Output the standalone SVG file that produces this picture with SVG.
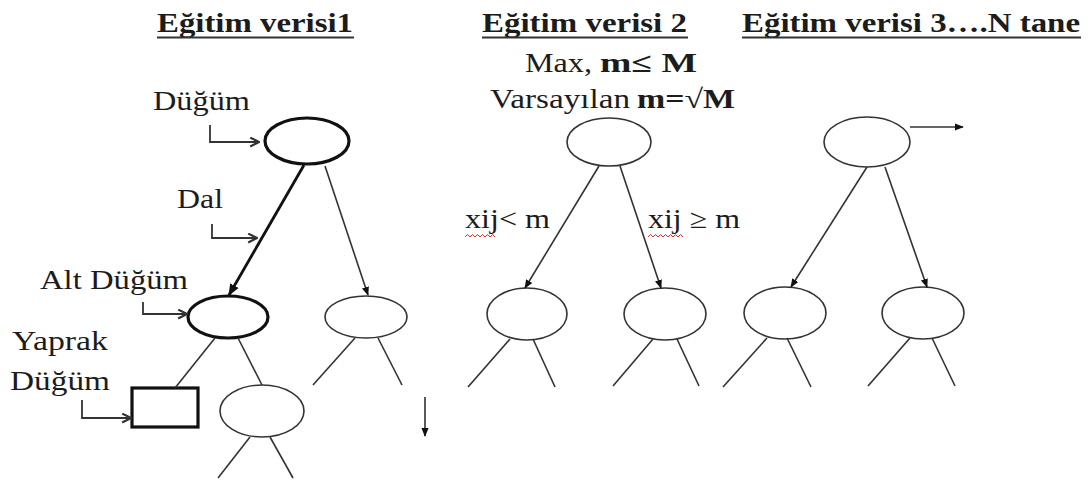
<svg xmlns="http://www.w3.org/2000/svg" width="1092" height="485" viewBox="0 0 1092 485">
<defs>
<style>
text{font-family:'Liberation Serif','Times New Roman',Times,serif;fill:#1c1c1c;font-size:27px}
.h{font-weight:bold;font-size:28px}
.b{font-weight:bold}
.n{fill:none;stroke:#333;stroke-width:1.6}
.nb{fill:none;stroke:#111;stroke-width:3.2}
.e{fill:none;stroke:#333;stroke-width:1.6}
.eb{fill:none;stroke:#111;stroke-width:2.8}
.ptr{fill:none;stroke:#333;stroke-width:1.8}
.ul{stroke:#333;stroke-width:2}
.sq{fill:none;stroke:#e03030;stroke-width:1}
</style>
<marker id="tri" viewBox="0 0 10 10" refX="9" refY="5" markerWidth="9" markerHeight="9" markerUnits="userSpaceOnUse" orient="auto">
<path d="M0,1 L10,5 L0,9 Z" fill="#111"/>
</marker>
<marker id="trib" viewBox="0 0 10 10" refX="9" refY="5" markerWidth="12" markerHeight="12" markerUnits="userSpaceOnUse" orient="auto">
<path d="M0,1 L10,5 L0,9 Z" fill="#111"/>
</marker>
<marker id="open" viewBox="0 0 10 10" refX="9" refY="5" markerWidth="11" markerHeight="11" markerUnits="userSpaceOnUse" orient="auto">
<path d="M1,1 L9,5 L1,9" fill="none" stroke="#333" stroke-width="2"/>
</marker>
</defs>
<rect width="1092" height="485" fill="#fff"/>

<g id="headings" font-family="Liberation Serif, serif">
<text class="h" x="157" y="32" textLength="196" lengthAdjust="spacingAndGlyphs">Eğitim verisi1</text>
<line class="ul" x1="157" y1="37.5" x2="354" y2="37.5"/>
<text class="h" x="482" y="32" textLength="205" lengthAdjust="spacingAndGlyphs">Eğitim verisi 2</text>
<line class="ul" x1="482" y1="37.5" x2="688" y2="37.5"/>
<text class="h" x="742" y="32" textLength="338" lengthAdjust="spacingAndGlyphs">Eğitim verisi 3….N tane</text>
<line class="ul" x1="742" y1="37.5" x2="1081" y2="37.5"/>
</g>

<g id="params" font-family="Liberation Serif, serif">
<text x="525" y="72" textLength="67" lengthAdjust="spacingAndGlyphs">Max,</text>
<text class="b" x="600" y="72" textLength="97" lengthAdjust="spacingAndGlyphs">m≤ M</text>
<text x="490" y="108" textLength="140" lengthAdjust="spacingAndGlyphs">Varsayılan</text>
<text class="b" x="637" y="108" textLength="98" lengthAdjust="spacingAndGlyphs">m=√M</text>
</g>

<g id="labels" font-family="Liberation Serif, serif">
<text x="153" y="110" textLength="97" lengthAdjust="spacingAndGlyphs">Düğüm</text>
<text x="177" y="208" textLength="46" lengthAdjust="spacingAndGlyphs">Dal</text>
<text x="40" y="289" textLength="148" lengthAdjust="spacingAndGlyphs">Alt Düğüm</text>
<text x="12" y="350" textLength="96" lengthAdjust="spacingAndGlyphs">Yaprak</text>
<text x="10" y="390" textLength="100" lengthAdjust="spacingAndGlyphs">Düğüm</text>
<text x="465" y="228" textLength="85" lengthAdjust="spacingAndGlyphs">xij&lt; m</text>
<text x="648" y="228" textLength="92" lengthAdjust="spacingAndGlyphs">xij ≥ m</text>
<path class="sq" d="M465,237 l2.5,-2.5 l2.5,2.5 l2.5,-2.5 l2.5,2.5 l2.5,-2.5 l2.5,2.5 l2.5,-2.5 l2.5,2.5 l2.5,-2.5 l2.5,2.5 l2.5,-2.5 l2.5,2.5"/>
<path class="sq" d="M648,237 l2.5,-2.5 l2.5,2.5 l2.5,-2.5 l2.5,2.5 l2.5,-2.5 l2.5,2.5 l2.5,-2.5 l2.5,2.5 l2.5,-2.5 l2.5,2.5 l2.5,-2.5 l2.5,2.5 l2.5,-2.5 l2.5,2.5"/>
</g>

<g id="tree1-root"><ellipse class="nb" cx="307" cy="141" rx="42" ry="23"/></g>
<g id="tree1-left"><ellipse class="nb" cx="228" cy="317" rx="40" ry="21"/></g>
<g id="tree1-right"><ellipse class="n" cx="366" cy="317" rx="41" ry="21"/></g>
<g id="tree1-leaf"><rect class="nb" x="132" y="388" width="66" height="39"/></g>
<g id="tree1-sub"><ellipse class="n" cx="262" cy="411" rx="42" ry="26"/></g>

<g id="tree2-root"><ellipse class="n" cx="609" cy="142" rx="42" ry="24"/></g>
<g id="tree2-left"><ellipse class="n" cx="527" cy="314" rx="40" ry="26"/></g>
<g id="tree2-right"><ellipse class="n" cx="665" cy="314" rx="41" ry="26"/></g>

<g id="tree3-root"><ellipse class="n" cx="867" cy="142" rx="43" ry="25"/></g>
<g id="tree3-left"><ellipse class="n" cx="785" cy="313" rx="41" ry="26"/></g>
<g id="tree3-right"><ellipse class="n" cx="923" cy="313" rx="41" ry="26"/></g>

<g id="connectors">
<line class="eb" x1="304" y1="165" x2="229" y2="295" marker-end="url(#trib)"/>
<line class="e" x1="325" y1="166" x2="368" y2="295" marker-end="url(#tri)"/>
<line class="e" x1="215" y1="338" x2="175" y2="388"/>
<line class="e" x1="238" y1="338" x2="262" y2="385"/>
<line class="e" x1="355" y1="338" x2="313" y2="385"/>
<line class="e" x1="378" y1="338" x2="402" y2="385"/>
<line class="e" x1="250" y1="437" x2="218" y2="478"/>
<line class="e" x1="270" y1="437" x2="293" y2="478"/>
<line class="e" x1="425" y1="397" x2="425" y2="436" stroke-width="2" marker-end="url(#tri)"/>

<line class="e" x1="599" y1="166" x2="525" y2="288" marker-end="url(#tri)"/>
<line class="e" x1="620" y1="166" x2="661" y2="288" marker-end="url(#tri)"/>
<line class="e" x1="510" y1="339" x2="468" y2="387"/>
<line class="e" x1="533" y1="339" x2="555" y2="387"/>
<line class="e" x1="653" y1="339" x2="613" y2="386"/>
<line class="e" x1="677" y1="339" x2="699" y2="386"/>

<line class="e" x1="867" y1="167" x2="791" y2="287" marker-end="url(#tri)"/>
<line class="e" x1="885" y1="167" x2="927" y2="287" marker-end="url(#tri)"/>
<line class="e" x1="767" y1="338" x2="723" y2="387"/>
<line class="e" x1="787" y1="338" x2="811" y2="387"/>
<line class="e" x1="910" y1="338" x2="868" y2="386"/>
<line class="e" x1="932" y1="338" x2="955" y2="386"/>
<line class="e" x1="910" y1="127" x2="963" y2="127" stroke-width="2.6" marker-end="url(#tri)"/>

<path class="ptr" d="M210,125 V142 H259" marker-end="url(#open)"/>
<path class="ptr" d="M212,224 V238 H257" marker-end="url(#open)"/>
<path class="ptr" d="M143,302 V314 H187" marker-end="url(#open)"/>
<path class="ptr" d="M82,400 V418 H131" marker-end="url(#open)"/>
</g>
</svg>
